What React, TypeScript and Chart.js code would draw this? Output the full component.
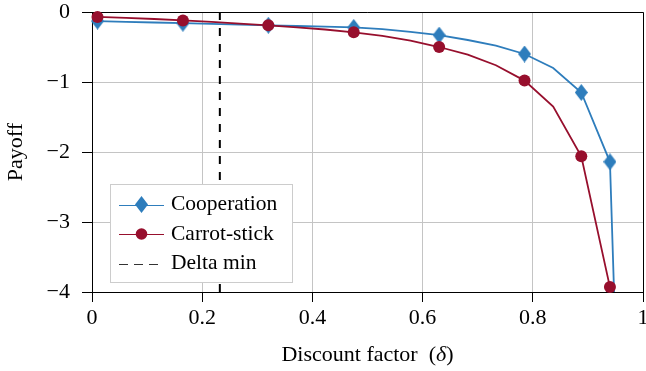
import React, { useEffect, useRef } from "react";
import { Chart, registerables } from "chart.js";

Chart.register(...registerables);

// ---- data ----
const deltaValues = [
  0.01, 0.062, 0.113, 0.165, 0.217, 0.268, 0.32, 0.372, 0.423, 0.475,
  0.527, 0.578, 0.63, 0.682, 0.733, 0.785, 0.837, 0.888, 0.94,
];
const cooperationDelta = [...deltaValues, 0.9515];
const cooperationPayoff = [
  -0.13, -0.14, -0.15, -0.16, -0.17, -0.18, -0.19, -0.2, -0.21, -0.22,
  -0.245, -0.285, -0.33, -0.4, -0.48, -0.6, -0.8, -1.15, -2.14, -5.0,
];
const carrotStickPayoff = [
  -0.07, -0.085, -0.1, -0.12, -0.14, -0.165, -0.19, -0.22, -0.25, -0.29,
  -0.34, -0.41, -0.5, -0.61, -0.76, -0.98, -1.35, -2.06, -3.93,
];
const markerIndices = [0, 3, 6, 9, 12, 15, 17, 18];
const deltaMin = 0.232;
const deltaMinSpan = [-4, 0];
const xRange = [0, 1];
const yRange = [-4, 0];
const xTitleText = "Discount factor";
const xTitleSymbol = "δ";
const yTitleText = "Payoff";

const BLUE = "#2e7dbc";
const RED = "#970f2d";
const FONT = "'Liberation Serif', 'Times New Roman', serif";

function makeDiamond(color: string, w: number, h: number) {
  const c = document.createElement("canvas");
  c.width = w;
  c.height = h;
  const g = c.getContext("2d")!;
  g.fillStyle = color;
  g.beginPath();
  g.moveTo(w / 2, 0);
  g.lineTo(w, h / 2);
  g.lineTo(w / 2, h);
  g.lineTo(0, h / 2);
  g.closePath();
  g.fill();
  return c;
}

export default function App() {
  const ref = useRef<HTMLCanvasElement>(null);

  useEffect(() => {
    const diamond = makeDiamond(BLUE, 13, 17);

    const framePlugin = {
      id: "frame",
      beforeDatasetsDraw(chart: any) {
        const { ctx, chartArea } = chart;
        ctx.save();
        ctx.strokeStyle = "#000";
        ctx.lineWidth = 1;
        ctx.beginPath();
        ctx.moveTo(Math.round(chartArea.left), Math.round(chartArea.top) + 0.5);
        ctx.lineTo(Math.round(chartArea.right) + 0.5, Math.round(chartArea.top) + 0.5);
        ctx.lineTo(Math.round(chartArea.right) + 0.5, Math.round(chartArea.bottom));
        ctx.stroke();
        ctx.restore();
      },
    };

    const xTitlePlugin = {
      id: "xTitle",
      afterDraw(chart: any) {
        const { ctx, chartArea } = chart;
        ctx.save();
        const normal = `22px ${FONT}`;
        const italic = `italic 22px ${FONT}`;
        const parts = [
          { t: xTitleText, f: normal },
          { t: "\u2002(", f: normal },
          { t: xTitleSymbol, f: italic },
          { t: ")", f: normal },
        ];
        let total = 0;
        const widths = parts.map((p) => {
          ctx.font = p.f;
          const w = ctx.measureText(p.t).width;
          total += w;
          return w;
        });
        let x = (chartArea.left + chartArea.right) / 2 - total / 2;
        ctx.fillStyle = "#000";
        ctx.textBaseline = "alphabetic";
        ctx.textAlign = "left";
        parts.forEach((p, i) => {
          ctx.font = p.f;
          ctx.fillText(p.t, x, 361);
          x += widths[i];
        });
        ctx.restore();
      },
    };

    const legendPlugin = {
      id: "insideLegend",
      afterDraw(chart: any) {
        const ctx = chart.ctx;
        ctx.save();
        const bx = 110.5, by = 184.5, bw = 182, bh = 98;
        ctx.fillStyle = "#fff";
        ctx.fillRect(bx, by, bw, bh);
        ctx.strokeStyle = "#cccccc";
        ctx.lineWidth = 1;
        ctx.strokeRect(bx, by, bw, bh);
        const rows = [204.5, 234, 263.5];
        const x0 = 119, x1 = 164, xm = 141.5, tx = 171;
        const ds = chart.data.datasets;
        ds.forEach((d: any, i: number) => {
          const y = rows[i];
          ctx.beginPath();
          ctx.lineWidth = 1;
          ctx.strokeStyle = d.legendColor;
          if (d.legendDash) ctx.setLineDash([9, 6]);
          else ctx.setLineDash([]);
          ctx.moveTo(x0, Math.round(y) + 0.5);
          ctx.lineTo(x1, Math.round(y) + 0.5);
          ctx.stroke();
          ctx.setLineDash([]);
          if (d.legendMarker === "diamond") {
            ctx.drawImage(diamond, xm - 6.5, y - 8.5);
          } else if (d.legendMarker === "circle") {
            ctx.fillStyle = RED;
            ctx.beginPath();
            ctx.arc(xm, y, 5.8, 0, Math.PI * 2);
            ctx.fill();
          }
          ctx.fillStyle = "#000";
          ctx.font = `21.5px ${FONT}`;
          ctx.textBaseline = "middle";
          ctx.textAlign = "left";
          ctx.fillText(d.label, tx, y);
        });
        ctx.restore();
      },
    };

    const markerRadius = (size: number) => (c: any) =>
      markerIndices.includes(c.dataIndex) ? size : 0;

    const chart = new Chart(ref.current!, {
      type: "line",
      data: {
        datasets: [
          {
            label: "Cooperation",
            data: cooperationDelta.map((x, i) => ({ x, y: cooperationPayoff[i] })),
            borderColor: BLUE,
            backgroundColor: BLUE,
            borderWidth: 1.8,
            pointStyle: diamond as any,
            pointRadius: markerRadius(7) as any,
            pointHoverRadius: markerRadius(7) as any,
            tension: 0,
            order: 1,
            clip: { left: 10, right: 10, top: 10, bottom: 0 } as any,
            legendColor: BLUE,
            legendMarker: "diamond",
          } as any,
          {
            label: "Carrot-stick",
            data: deltaValues.map((x, i) => ({ x, y: carrotStickPayoff[i] })),
            borderColor: RED,
            backgroundColor: RED,
            borderWidth: 1.8,
            pointStyle: "circle",
            pointRadius: markerRadius(6) as any,
            pointHoverRadius: markerRadius(6) as any,
            pointBorderWidth: 0,
            tension: 0,
            order: 0,
            clip: false as any,
            legendColor: RED,
            legendMarker: "circle",
          } as any,
          {
            label: "Delta min",
            data: deltaMinSpan.map((y) => ({ x: deltaMin, y })),
            borderColor: "#000",
            borderWidth: 2,
            borderDash: [8, 8],
            pointRadius: 0,
            order: 2,
            legendColor: "#333",
            legendDash: true,
          } as any,
        ],
      },
      options: {
        responsive: false,
        animation: false,
        events: [],
        layout: { autoPadding: false, padding: { top: 12, right: 3, left: 0, bottom: 0 } },
        plugins: { legend: { display: false }, tooltip: { enabled: false } },
        scales: {
          x: {
            type: "linear",
            min: xRange[0],
            max: xRange[1],
            ticks: {
              stepSize: 0.2,
              color: "#000",
              font: { family: FONT, size: 22 },
              padding: 3,
              maxRotation: 0,
              callback: (v: any) => String(Number(Number(v).toFixed(1))),
            },
            grid: { color: "#c4c4c4", tickColor: "#000", tickLength: 10, lineWidth: 1 },
            border: { color: "#000", width: 1 },
            title: { display: false },
            afterFit: (s: any) => {
              s.height = 79;
              s.paddingLeft = 0;
              s.paddingRight = 0;
            },
          },
          y: {
            type: "linear",
            min: yRange[0],
            max: yRange[1],
            ticks: {
              stepSize: 1,
              color: "#000",
              font: { family: FONT, size: 22 },
              padding: 12,
              callback: (v: any) => (Number(v) < 0 ? "\u2212" + Math.abs(Number(v)) : String(v)),
            },
            grid: { color: "#c4c4c4", tickColor: "#000", tickLength: 10, lineWidth: 1 },
            border: { color: "#000", width: 1 },
            title: {
              display: true,
              text: yTitleText,
              color: "#000",
              font: { family: FONT, size: 22 },
              padding: { top: 3, bottom: 0 },
            },
            afterFit: (s: any) => {
              s.width = 92;
              s.paddingTop = 0;
              s.paddingBottom = 0;
            },
          },
        },
      },
      plugins: [framePlugin, legendPlugin, xTitlePlugin],
    });
    return () => chart.destroy();
  }, []);

  return (
    <div style={{ position: "absolute", left: 0, top: 0, width: 646, height: 371, background: "#fff" }}>
      <canvas ref={ref} width={646} height={371} />
    </div>
  );
}
